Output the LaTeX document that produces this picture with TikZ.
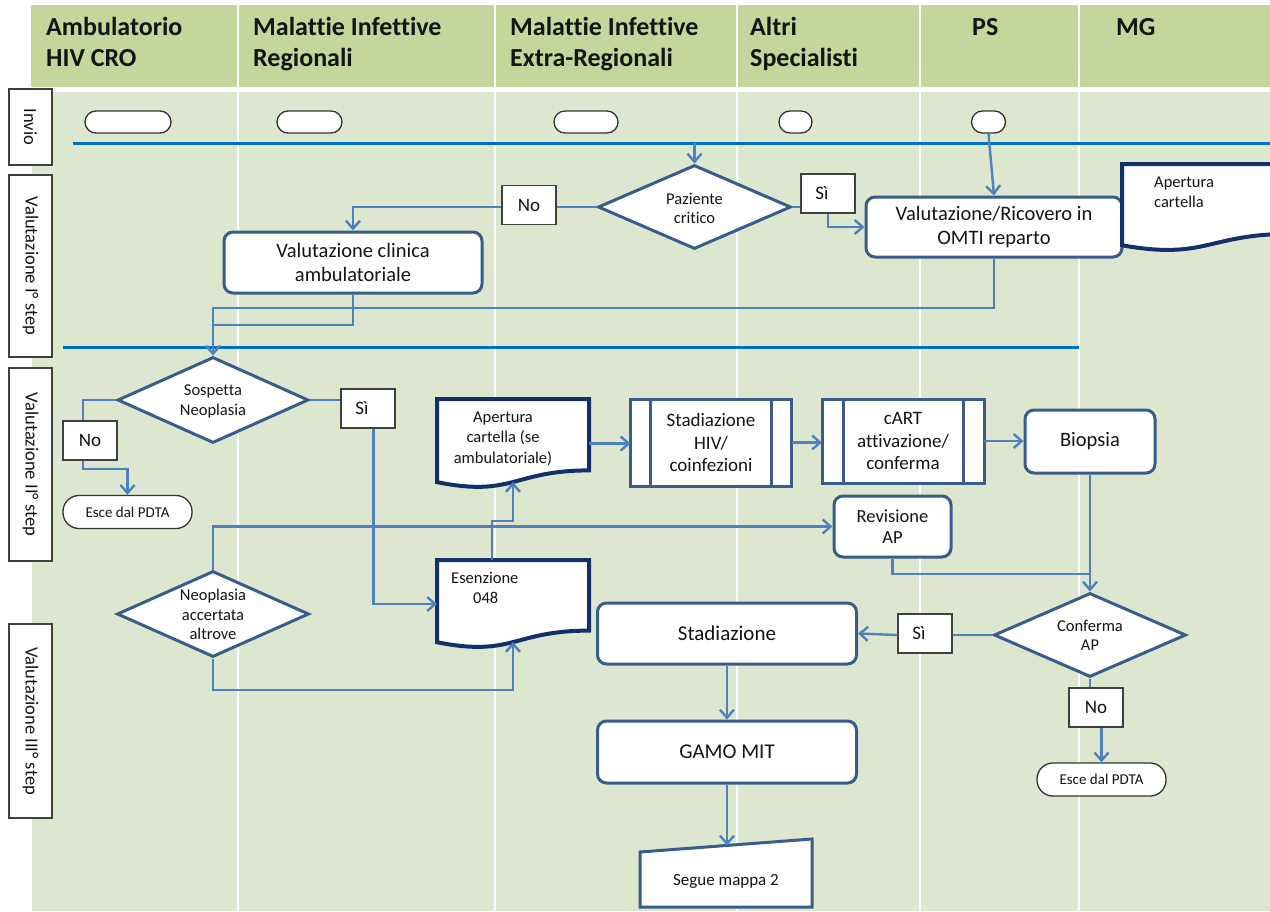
\documentclass[tikz,border=0pt]{standalone}
\usepackage{fontspec}
\setmainfont[Ligatures={NoCommon}]{Carlito}
\usetikzlibrary{arrows.meta,calc,shapes.geometric}

\definecolor{hdrgreen}{HTML}{C3D69B}
\definecolor{lanegreen}{HTML}{DDE7D0}
\definecolor{flowblue}{HTML}{4F81BD}
\definecolor{laneblue}{HTML}{0070C0}
\definecolor{edgeblue}{HTML}{385D8A}
\definecolor{docnavy}{HTML}{14306A}
\definecolor{ink}{HTML}{141414}

\newcommand{\fsz}[2]{\fontsize{#1}{#2}\selectfont}

\begin{document}
\begin{tikzpicture}[x=1pt,y=-1pt,
  every node/.style={text=ink},
  hdrtxt/.style={anchor=base west, inner sep=0pt, font=\fsz{26}{31}\bfseries},
  lanebox/.style={draw=black!75, line width=1.5pt, fill=white, rotate=-90, inner sep=0pt, font=\fsz{18.5}{22}},
  laneline/.style={draw=laneblue, line width=3pt},
  term/.style={draw=black!80, line width=1.3pt, fill=white, rounded corners=11pt, minimum height=22pt, inner sep=0pt},
  exitterm/.style={draw=black!80, line width=1.3pt, fill=white, rounded corners=16pt, minimum width=129pt, minimum height=33pt, inner sep=0pt, font=\fsz{15}{18}},
  proc/.style={draw=edgeblue, line width=3pt, fill=white, rounded corners=9pt, inner sep=0pt, align=center},
  dia/.style={draw=edgeblue, line width=3pt, fill=white, diamond, inner sep=0pt},
  diatxt/.style={align=center, inner sep=0pt, font=\fsz{16.5}{19.5}},
  yn/.style={draw=black!75, line width=1.5pt, fill=white, minimum width=54pt, minimum height=39pt, inner sep=0pt, font=\fsz{19}{22}},
  docarea/.style={anchor=north west, inner sep=0pt, outer sep=0pt},
  docline/.style={draw=docnavy, line width=4pt, fill=white, line join=miter},
  doctxt/.style={align=left, inner sep=0pt, font=\fsz{16.5}{20.5}},
  pp/.style={draw=edgeblue, line width=3pt, fill=white, inner sep=0pt, outer sep=0pt, align=center, font=\fsz{19}{22.5}},
  flow/.style={draw=flowblue, line width=2.4pt},
  arr/.style={flow, -{Straight Barb[length=8pt,width=14pt]}}
]
\useasboundingbox (0,0) rectangle (1270,911);
\fill[white] (0,0) rectangle (1270,911);
\clip (0,0) rectangle (1270,911);

% swimlane background
\fill[hdrgreen] (31,5) rectangle (1270,87);
\fill[lanegreen] (32,92) rectangle (1270,911);
\foreach \x in {238,495,737,920,1079}
  \draw[white, line width=2pt] (\x,5) -- (\x,911);

% column headers
\node[hdrtxt] (h1a) at (46,35) {Ambulatorio};
\node[hdrtxt] (h1b) at (46,66) {HIV CRO};
\node[hdrtxt] (h2a) at (253,35) {Malattie Infettive};
\node[hdrtxt] (h2b) at (253,66) {Regionali};
\node[hdrtxt] (h3a) at (510,35) {Malattie Infettive};
\node[hdrtxt] (h3b) at (510,66) {Extra-Regionali};
\node[hdrtxt] (h4a) at (750,35) {Altri};
\node[hdrtxt] (h4b) at (750,66) {Specialisti};
\node[hdrtxt] (h5) at (972,35) {PS};
\node[hdrtxt] (h6) at (1116,35) {MG};

% row labels
\node[lanebox, minimum width=76pt, minimum height=43pt] (rInv) at (30.5,127) {Invio};
\node[lanebox, minimum width=182pt, minimum height=43pt] (rV1) at (30.5,266) {Valutazione I° step};
\node[lanebox, minimum width=193pt, minimum height=43pt] (rV2) at (30.5,464.5) {Valutazione II° step};
\node[lanebox, minimum width=194pt, minimum height=43pt] (rV3) at (30.5,721) {Valutazione III° step};

% row separators
\draw[laneline] (73,143) -- (1270,143);
\draw[laneline] (63,347) -- (1079,347);
\coordinate (entry) at (694.5,143);

% start terminators
\node[term, minimum width=86pt] (inv1) at (128,122) {};
\node[term, minimum width=65pt] (inv2) at (309.5,122) {};
\node[term, minimum width=64pt] (inv3) at (586,122) {};
\node[term, minimum width=33pt] (inv4) at (795.5,122) {};
\node[term, minimum width=34pt] (inv5) at (988.5,122) {};

% step I
\node[dia, minimum width=193pt, minimum height=84pt] (dPaz) at (694.5,207) {};
\node[diatxt] (dPazT) at (694.5,208.5) {Paziente\\critico};
\node[yn] (no1) at (529,205) {No};
\node[yn] (si1) at (828,193.5) {Sì\hspace*{12pt}};
\node[proc, minimum width=258pt, minimum height=61pt, font=\fsz{20.5}{24}] (vclin) at (353,262.5) {Valutazione clinica\\ambulatoriale};
\node[proc, minimum width=256pt, minimum height=60pt, font=\fsz{20.5}{24}] (vric) at (994,227) {Valutazione/Ricovero in\\OMTI reparto};

% document: Apertura cartella (ward)
\node[docarea, minimum width=170pt, minimum height=87pt] (apr) at (1122,164) {};
\draw[docline] (apr.north west) -- (apr.north east) -- ($(apr.north east)+(0,69.8)$)
  .. controls ($(apr.north)+(0,69.8)$) and ($(apr.north)+(0,96.3)$) .. ($(apr.north west)+(0,81.3)$) -- cycle;
\node[doctxt, anchor=west] (aprT) at (1154,192.5) {Apertura\\cartella};

% step II
\node[dia, minimum width=191pt, minimum height=86pt] (dSosp) at (213,400) {};
\node[diatxt] (dSospT) at (213,401.5) {Sospetta\\Neoplasia};
\node[yn] (no2) at (90,440.5) {No};
\node[yn] (si2) at (368,408.5) {Sì\hspace*{12pt}};
\node[exitterm] (esce1) at (127.5,512) {Esce dal PDTA};

\node[docarea, minimum width=152pt, minimum height=89pt] (apc) at (437,399) {};
\draw[docline] (apc.north west) -- (apc.north east) -- ($(apc.north east)+(0,71.4)$)
  .. controls ($(apc.north)+(0,71.4)$) and ($(apc.north)+(0,98.5)$) .. ($(apc.north west)+(0,83.1)$) -- cycle;
\node[doctxt, align=center] (apcT) at (503,438.5) {Apertura\\cartella (se\\ambulatoriale)};

\node[docarea, minimum width=152pt, minimum height=88pt] (esen) at (437,560) {};
\draw[docline] (esen.north west) -- (esen.north east) -- ($(esen.north east)+(0,70.6)$)
  .. controls ($(esen.north)+(0,70.6)$) and ($(esen.north)+(0,97.4)$) .. ($(esen.north west)+(0,82.2)$) -- cycle;
\node[doctxt, anchor=west] (esenT) at (451,588) {Esenzione\\\hspace*{22pt}048};

\node[pp, minimum width=161pt, minimum height=87pt] (stHIV) at (711,442.5) {Stadiazione\\HIV/\\coinfezioni};
\draw[edgeblue, line width=3pt] ([xshift=20pt]stHIV.north west) -- ([xshift=20pt]stHIV.south west);
\draw[edgeblue, line width=3pt] ([xshift=-20pt]stHIV.north east) -- ([xshift=-20pt]stHIV.south east);
\node[pp, minimum width=162pt, minimum height=84pt] (cart) at (903,441) {cART\\attivazione/\\conferma};
\draw[edgeblue, line width=3pt] ([xshift=21pt]cart.north west) -- ([xshift=21pt]cart.south west);
\draw[edgeblue, line width=3pt] ([xshift=-21pt]cart.north east) -- ([xshift=-21pt]cart.south east);
\node[proc, minimum width=130pt, minimum height=63pt, font=\fsz{20.5}{24}] (bio) at (1090,441.5) {Biopsia};
\node[proc, minimum width=117pt, minimum height=61pt, font=\fsz{18.5}{21.5}] (rev) at (892.5,526.5) {Revisione\\AP};

\node[dia, minimum width=192pt, minimum height=86pt] (dNeo) at (213,614) {};
\node[diatxt] (dNeoT) at (213,614.5) {Neoplasia\\accertata\\altrove};

% step III
\node[dia, minimum width=192pt, minimum height=84pt] (conf) at (1090,635) {};
\node[diatxt] (confT) at (1090,635.5) {Conferma\\AP};
\node[yn] (si3) at (925,633.5) {Sì\hspace*{12pt}};
\node[yn] (no3) at (1096,707.5) {No};
\node[exitterm] (esce2) at (1101.5,779.5) {Esce dal PDTA};
\node[proc, minimum width=259pt, minimum height=61pt, font=\fsz{21}{24}] (stad) at (727,633.5) {Stadiazione};
\node[proc, minimum width=259pt, minimum height=62pt, font=\fsz{21}{24}] (gamo) at (727,752) {GAMO MIT};

% off-page connector: Segue mappa 2
\draw[draw=edgeblue, line width=3pt, fill=white, line join=miter] (640,852) -- (812,839) -- (812,907) -- (640,907) -- cycle;
\node[inner sep=0pt, font=\fsz{17}{20}] (seg) at (726,881) {Segue mappa 2};
\coordinate (segTop) at (727,845.5);

% connectors, step I
\draw[arr] (entry) -- (dPaz.north);
\draw[arr] (inv5.south) -- (vric.north);
\draw[flow] (dPaz.west) -- (dPaz.west -| no1.east);
\draw[arr] (dPaz.west -| no1.west) -| (vclin.north);
\draw[flow] (dPaz.east) -- (dPaz.east -| si1.west);
\draw[arr] (si1.south) |- (vric.west);
\coordinate (m1) at (213,308);
\draw[flow] (vclin.south) -- (353,325) -- (213,325);
\draw[arr] (vric.south) |- (m1) -- (dSosp.north);

% connectors, step II
\draw[flow] (dSosp.west) -| ([xshift=-7pt]no2.north);
\draw[arr] ([xshift=-7pt]no2.south) -- (83,469) -| (esce1.north);
\draw[flow] (dSosp.east) -- (dSosp.east -| si2.west);
\draw[arr] ([xshift=5.5pt]si2.south) |- (esen.west);
\draw[arr] ([xshift=-21pt]esen.north) -- ++(0,-39) -| ($(apc.north)+(0,83)$);
\draw[arr] (apc.east) -- (apc.east -| stHIV.west);
\draw[arr] (stHIV.east) -- (stHIV.east -| cart.west);
\draw[arr] (cart.east) -- (cart.east -| bio.west);
\draw[arr] (dNeo.north) |- (rev.west);
\draw[arr] (dNeo.south) -- (213,690) -| ($(esen.north)+(0,82)$);
\coordinate (j2) at (1090,574);
\draw[flow] (rev.south) |- (j2);
\draw[arr] (bio.south) -- (conf.north);

% connectors, step III
\draw[flow] (conf.west) -- (conf.west -| si3.east);
\draw[arr] (conf.west -| si3.west) -- (stad.east);
\draw[flow] (conf.south) -- (conf.south |- no3.north);
\draw[arr] (no3.south -| esce2.north) -- (esce2.north);
\draw[arr] (stad.south) -- (gamo.north);
\draw[arr] (gamo.south) -- (segTop);
\end{tikzpicture}
\end{document}
